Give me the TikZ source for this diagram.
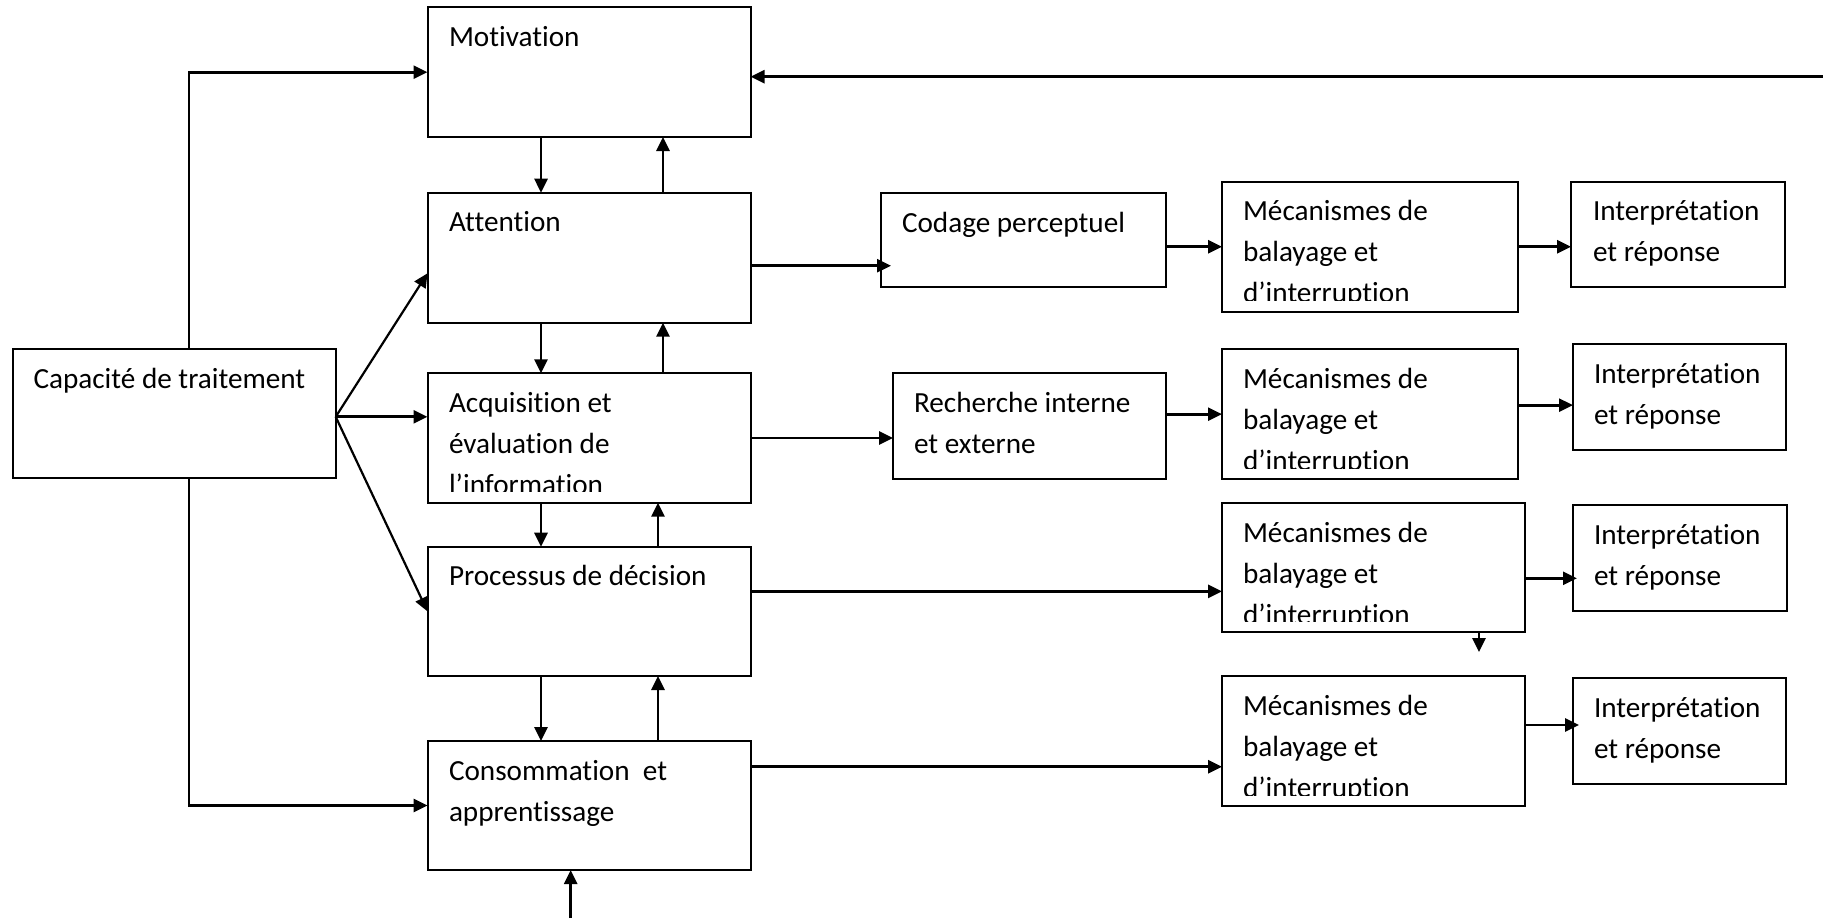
\documentclass[tikz,border=0pt]{standalone}
\usepackage{fontspec}
\setmainfont{Carlito}[Ligatures=NoCommon]
\usetikzlibrary{arrows.meta,calc}

\tikzset{
  box/.style={draw, line width=1pt, inner sep=0pt, outer sep=0pt, anchor=north west},
  txt/.style={inner sep=0pt, outer sep=0pt, anchor=base west, font=\fontsize{14.6pt}{17pt}\selectfont},
  arr/.style={line width=1.35pt, -{Triangle[length=7pt,width=6.5pt]}},
  thin arr/.style={arr, line width=1.1pt},
}

% box given by its corners (x1,y1) and (x2,y2), in picture units
\newcommand\mkbox[5]{%
  \node[box, minimum width={(#4-#2)*0.5pt}, minimum height={(#5-#3)*0.5pt}] (#1) at (#2,#3) {};}
% one line of text, placed by its baseline start
\newcommand\mktext[4]{\node[txt] (#1) at (#2,#3) {#4};}

\begin{document}
\begin{tikzpicture}[x=0.5pt,y=-0.5pt]
\useasboundingbox (0,0) rectangle (1823,918);

% ---- boxes ----
\mkbox{cap}{12.7}{349.3}{335.7}{478.3}
\mkbox{mot}{427.5}{7.3}{750.5}{137}
\mkbox{att}{427.5}{192.7}{750.5}{322.7}
\mkbox{acq}{427.5}{373.3}{750.5}{502.7}
\mkbox{proc}{427.5}{546.7}{750.5}{676}
\mkbox{cons}{427.5}{741}{750.5}{870}
\mkbox{cod}{881}{193.3}{1166}{287}
\mkbox{rech}{893}{373.3}{1166}{479}
\mkbox{mecA}{1222}{181.7}{1518}{311.7}
\mkbox{mecB}{1222}{349.3}{1518}{479}
\mkbox{mecC}{1222}{503.3}{1525.3}{632.3}
\mkbox{mecD}{1222}{676}{1525.3}{806}
\mkbox{intA}{1571}{181.7}{1785}{286.7}
\mkbox{intB}{1573}{344}{1786}{450}
\mkbox{intC}{1573}{505}{1786.7}{611}
\mkbox{intD}{1573}{678.3}{1786}{784.3}

% ---- texts ----
\mktext{capT}{33.5}{388.3}{Capacité de traitement}
\mktext{motT}{449}{46.3}{Motivation}
\mktext{attT}{449}{231.7}{Attention}
\begin{scope}
  \clip (acq.north west) rectangle ($(acq.south east)+(0,-11)$);
  \mktext{acqT1}{449}{412.3}{Acquisition et}
  \mktext{acqT2}{449}{453.3}{évaluation de}
  \mktext{acqT3}{449}{494.3}{l’information}
\end{scope}
\mktext{procT}{449}{585.7}{Processus de décision}
\mktext{consT1}{449}{780}{Consommation\ \ et}
\mktext{consT2}{449}{821}{apprentissage}
\mktext{codT}{902}{232.3}{Codage perceptuel}
\mktext{rechT1}{914}{412.3}{Recherche interne}
\mktext{rechT2}{914}{453.3}{et externe}
\foreach \m/\y in {mecA/220.7, mecB/388.3, mecC/542.3, mecD/715}{
  \begin{scope}
    \clip (\m.north west) rectangle ($(\m.south east)+(0,-11)$);
    \node[txt] (\m T1) at (1243,\y) {Mécanismes de};
    \node[txt] (\m T2) at (1243,\y+41) {balayage et};
    \node[txt] (\m T3) at (1243,\y+82) {d’interruption};
  \end{scope}
}
\foreach \i/\x/\y in {intA/1593/220.7, intB/1594/383, intC/1594/544, intD/1594/717.3}{
  \node[txt] (\i T1) at (\x,\y) {Interprétation};
  \node[txt] (\i T2) at (\x,\y+41) {et réponse};
}

% ---- left bus from the capacity box ----
\coordinate (vx) at (189,0);
\draw[arr] (cap.north -| vx) |- (mot.west);
\draw[arr] (cap.south -| vx) |- (cons.west);
\coordinate (fan) at ($(cap.east)+(0,3)$);
\draw[thin arr] (fan) -- ($(att.west)+(0,15.6)$);
\draw[arr] (fan) -- (fan -| acq.west);
\draw[thin arr] (fan) -- (proc.west);

% ---- two-way links along the central column ----
\coordinate (dn) at (541,0);
\coordinate (upA) at (663,0);
\coordinate (upB) at (658,0);
\draw[arr] (mot.south -| dn) -- (att.north -| dn);
\draw[arr] (att.north -| upA) -- (mot.south -| upA);
\draw[arr] (att.south -| dn) -- (acq.north -| dn);
\draw[arr] (acq.north -| upA) -- (att.south -| upA);
\draw[arr] (acq.south -| dn) -- (proc.north -| dn);
\draw[arr] (proc.north -| upB) -- (acq.south -| upB);
\draw[arr] (proc.south -| dn) -- (cons.north -| dn);
\draw[arr] (cons.north -| upB) -- (proc.south -| upB);

% ---- feedback into motivation and input into consumption ----
\coordinate (fb) at (1823,76.7);
\draw[arr] (fb) -- (fb -| mot.east);
\coordinate (bt) at (570.7,918);
\draw[arr] (bt) -- (bt |- cons.south);

% ---- rows to the right ----
\coordinate (a1) at ($(att.east)+(0,8)$);
\draw[arr] (a1) -- ([xshift=5pt]a1 -| cod.west);
\draw[arr] (acq.east) -- (acq.east -| rech.west);
\draw[arr] (mecA.west -| cod.east) -- (mecA.west);
\draw[arr] (mecA.east) -- (mecA.east -| intA.west);
\draw[arr] (mecB.west -| rech.east) -- (mecB.west);
\coordinate (b1) at ($(mecB.east)+(0,-9)$);
\draw[arr] (b1) -- (b1 -| intB.west);
\coordinate (c0) at ($(proc.east)+(0,-20)$);
\draw[arr] (c0) -- (c0 -| mecC.west);
\coordinate (c1) at ($(mecC.east)+(0,10.5)$);
\draw[arr] (c1) -- ([xshift=2pt]c1 -| intC.west);
\coordinate (dd) at (1479,652);
\draw[arr] (mecC.south -| dd) -- (dd);
\coordinate (d0) at ($(cons.east)+(0,-38.8)$);
\draw[arr] (d0) -- (d0 -| mecD.west);
\coordinate (d1) at ($(mecD.east)+(0,-16)$);
\draw[arr] (d1) -- ([xshift=3pt]d1 -| intD.west);
\end{tikzpicture}
\end{document}
